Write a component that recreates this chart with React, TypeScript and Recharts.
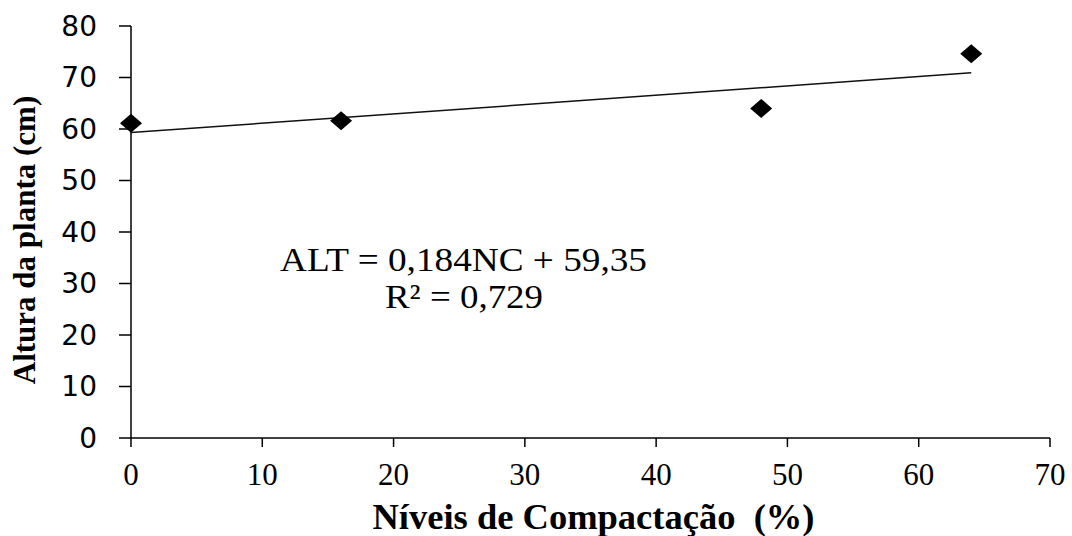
import React from 'react';
import { ScatterChart, Scatter, XAxis, YAxis, Label, Customized } from 'recharts';

// values
const compactionLevels = [0, 16, 48, 64];
const plantHeights = [61.1, 61.6, 64.0, 74.6];
const trendLevels = [0, 64];
const trendHeights = [59.3, 70.9];
const xTicks = [0, 10, 20, 30, 40, 50, 60, 70];
const yTicks = [0, 10, 20, 30, 40, 50, 60, 70, 80];
const equationText = 'ALT = 0,184NC  + 59,35';
const r2Text = 'R² = 0,729';

const points = compactionLevels.map((x, i) => ({ x, y: plantHeights[i] }));
const trend = trendLevels.map((x, i) => ({ x, y: trendHeights[i] }));

const SERIF = '"Liberation Serif", "Times New Roman", serif';
const SANS = '"DejaVu Sans", Verdana, sans-serif';

const Diamond = (props: any) => {
  const { cx, cy } = props;
  return (
    <polygon
      points={`${cx},${cy - 9.5} ${cx + 11},${cy} ${cx},${cy + 9.5} ${cx - 11},${cy}`}
      fill="#000"
    />
  );
};

const NoShape = () => <g />;

const YTitle = ({ viewBox }: any) => {
  const x = 35;
  const y = viewBox.y + viewBox.height / 2 + 8;
  return (
    <text
      x={x}
      y={y}
      transform={`rotate(-90 ${x} ${y})`}
      textAnchor="middle"
      fontFamily={SERIF}
      fontWeight="bold"
      fontSize={31}
      fill="#000"
    >
      Altura da planta (cm)
    </text>
  );
};

const XTitle = ({ viewBox }: any) => {
  const x = viewBox.x + viewBox.width / 2;
  return (
    <text
      x={x + 3}
      y={529}
      textAnchor="middle"
      fontFamily={SERIF}
      fontWeight="bold"
      fontSize={36.5}
      fill="#000"
      style={{ whiteSpace: 'pre' }}
    >
      Níveis de Compactação  (%)
    </text>
  );
};

const Equation = () => (
  <g fontFamily={SERIF} fontSize={33} fill="#000" style={{ whiteSpace: 'pre' }}>
    <text x={280} y={271} textLength={367} lengthAdjust="spacingAndGlyphs">{equationText}</text>
    <text x={385} y={308} textLength={158} lengthAdjust="spacingAndGlyphs">{r2Text}</text>
  </g>
);

export default function App() {
  return (
    <div style={{ position: 'absolute', left: 0, top: 0, width: 1072, height: 536, background: '#fff' }}>
      <ScatterChart width={1072} height={536} margin={{ top: 26, right: 22, bottom: 0, left: 0 }}>
        <XAxis
          type="number"
          dataKey="x"
          domain={[0, 70]}
          ticks={xTicks}
          interval={0}
          tickSize={9}
          tickMargin={16}
          height={98}
          stroke="#000"
          strokeWidth={1.5}
          tick={{ fontFamily: SERIF, fontSize: 31, fill: '#000' }}
        >
          <Label content={<XTitle />} />
        </XAxis>
        <YAxis
          type="number"
          dataKey="y"
          domain={[0, 80]}
          ticks={yTicks}
          interval={0}
          tickSize={12}
          tickMargin={22}
          width={131}
          stroke="#000"
          strokeWidth={1.5}
          tick={{ fontFamily: SANS, fontSize: 28, fill: '#000' }}
        >
          <Label content={<YTitle />} />
        </YAxis>
        <Scatter
          data={trend}
          line={{ stroke: '#111', strokeWidth: 1.5 }}
          shape={<NoShape />}
          isAnimationActive={false}
        />
        <Scatter data={points} shape={<Diamond />} isAnimationActive={false} />
        <Customized component={Equation} />
      </ScatterChart>
    </div>
  );
}
